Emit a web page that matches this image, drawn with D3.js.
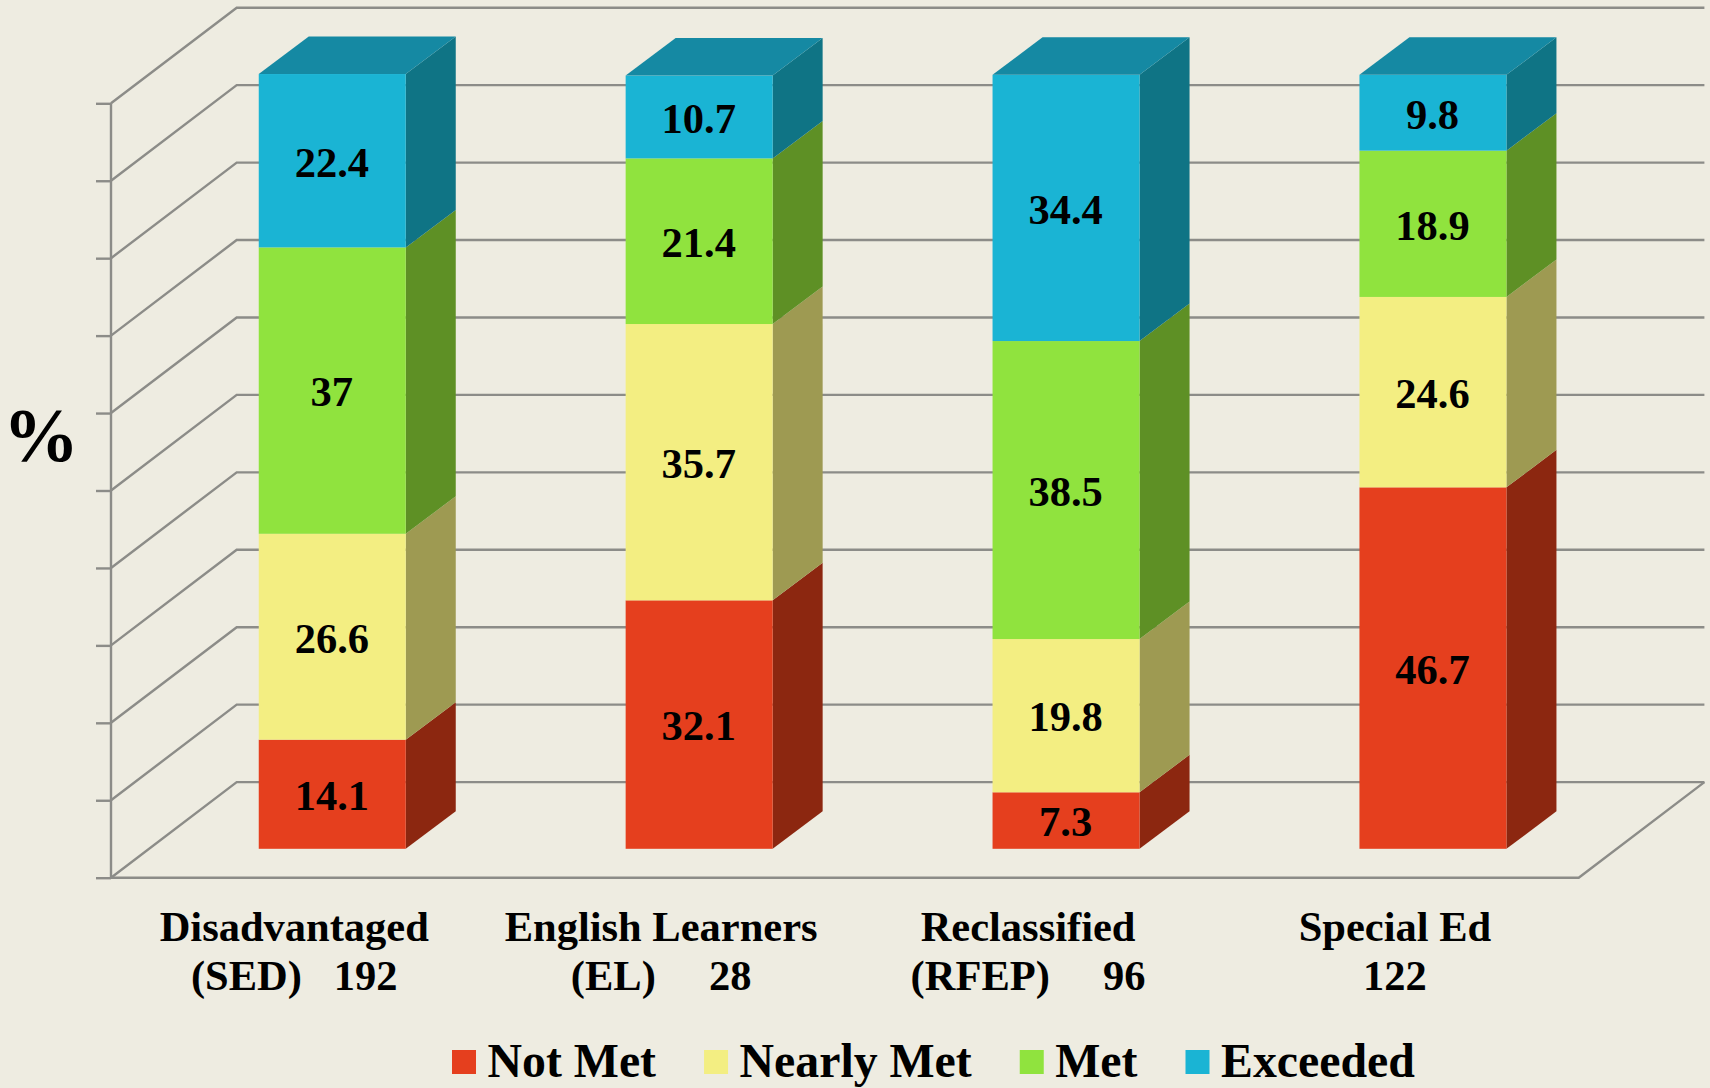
<!DOCTYPE html>
<html><head><meta charset="utf-8">
<script src="https://cdn.jsdelivr.net/npm/d3@7/dist/d3.min.js"></script>
<style>html,body{margin:0;padding:0;background:#eeece1;overflow:hidden}svg{display:block}text{font-family:"Liberation Serif","Times New Roman",serif;font-weight:bold;fill:#000;white-space:pre}</style>
</head><body><svg id="c" width="1710" height="1088"></svg>
<script>
const categories=["Disadvantaged","English Learners","Reclassified","Special Ed"];
const categorySecondLines=["(SED)   192","(EL)     28","(RFEP)     96","122"];
const seriesNames=["Not Met","Nearly Met","Met","Exceeded"];
const notMet=[14.1,32.1,7.3,46.7];
const nearlyMet=[26.6,35.7,19.8,24.6];
const met=[37,21.4,38.5,18.9];
const exceeded=[22.4,10.7,34.4,9.8];
const gridTicks=[0,10,20,30,40,50,60,70,80,90,100];
const faceColors=["#e53f1e","#f3ee82","#90e33e","#1ab4d4"];
const sideColors=["#8c2710","#9e9a52","#5e9025","#0f7485"];
const topColor="#1589a3", gridColor="#8c8c88", bg="#eeece1";

const svg=d3.select("#c");
svg.append("rect").attr("width",1710).attr("height",1088).attr("fill",bg);
const values=[notMet,nearlyMet,met,exceeded];
const yGrid=d3.scaleLinear().domain([0,100]).range([877.7,103.3]);
const yBar=d3.scaleLinear().domain([0,100]).range([848.8,74.8]);
const xBand=d3.scaleBand().domain(categories).range([148.8,1616.4]).paddingInner(0).paddingOuter(0);
const barW=147, depthX=50, depthY=37.5, wallX=125.7, wallY=95.6;
const x0=111, xFrontR=1578.7;

const grid=svg.append("g").attr("fill","none").attr("stroke",gridColor).attr("stroke-width",2.4);
gridTicks.forEach(t=>{
  const y=yGrid(t);
  grid.append("path").attr("d",d3.line()([[x0,y],[x0+wallX,y-wallY],[xFrontR+wallX,y-wallY]]));
});
grid.append("path").attr("d",d3.line()([[x0,yGrid(0)],[xFrontR,yGrid(0)],[xFrontR+wallX,yGrid(0)-wallY]]));
const axis=d3.axisLeft(yGrid).tickValues(gridTicks).tickSize(15).tickFormat("");
const ga=svg.append("g").attr("transform",`translate(${x0},0)`).call(axis);
ga.selectAll("path.domain").attr("stroke",gridColor).attr("stroke-width",2.4).attr("d",`M0,${yGrid(100)}V${yGrid(0)}`);
ga.selectAll("line").attr("stroke",gridColor).attr("stroke-width",2.4);

const bars=svg.append("g");
categories.forEach((c,i)=>{
  const cx=xBand(c)+xBand.bandwidth()/2, l=cx-barW/2, r=cx+barW/2;
  let acc=0;
  const gb=bars.append("g");
  values.forEach((vals,s)=>{
    const v=vals[i], yb=yBar(acc), yt=yBar(acc+v);
    gb.append("polygon").attr("fill",sideColors[s])
      .attr("points",[[r,yb],[r+depthX,yb-depthY],[r+depthX,yt-depthY],[r,yt]].join(" "));
    gb.append("rect").attr("x",l).attr("y",yt).attr("width",barW).attr("height",yb-yt).attr("fill",faceColors[s]);
    acc+=v;
  });
  const yt=yBar(acc);
  gb.append("polygon").attr("fill",topColor)
    .attr("points",[[l,yt],[l+depthX,yt-depthY],[r+depthX,yt-depthY],[r,yt]].join(" "));
  acc=0;
  values.forEach((vals,s)=>{
    const v=vals[i];
    gb.append("text").attr("x",cx-0.4).attr("y",yBar(acc+v/2)+15.8).attr("text-anchor","middle")
      .attr("font-size",42.5).text(String(v));
    acc+=v;
  });
  svg.append("text").attr("x",cx-38).attr("y",940.5).attr("text-anchor","middle").attr("font-size",42.5).text(c);
  svg.append("text").attr("x",cx-38).attr("y",990).attr("text-anchor","middle").attr("font-size",42.5).text(categorySecondLines[i]);
});

svg.append("text").attr("x",41).attr("y",461).attr("text-anchor","middle").attr("font-size",76).text("%");

let lx=452;
seriesNames.forEach((n,i)=>{
  svg.append("rect").attr("x",lx).attr("y",1050).attr("width",24).attr("height",24).attr("fill",faceColors[i]);
  const t=svg.append("text").attr("x",lx+35.5).attr("y",1077.3).attr("font-size",47.8).text(n);
  lx+=35.5+t.node().getComputedTextLength()+48;
});
</script></body></html>
